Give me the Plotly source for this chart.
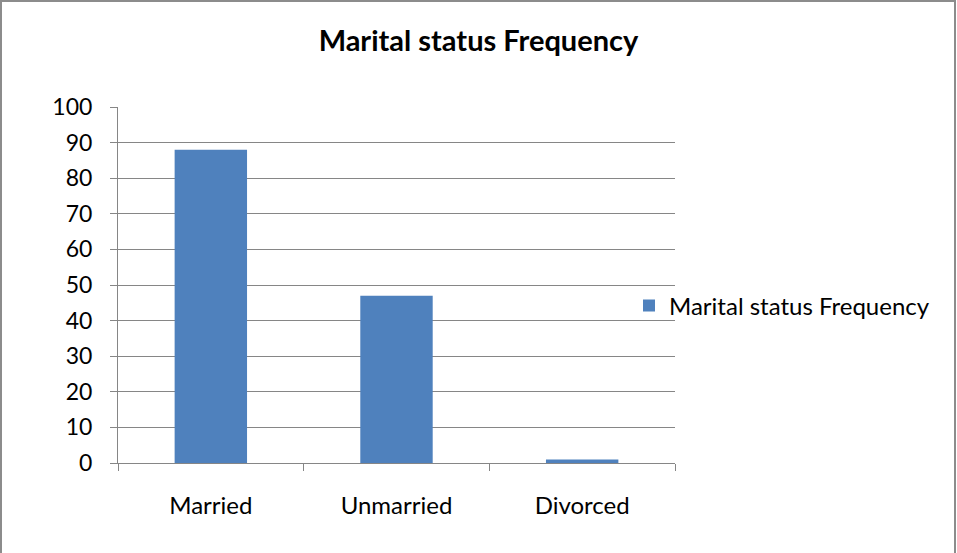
import plotly.graph_objs as go

categories = ['Married', 'Unmarried', 'Divorced']
frequency = [88, 47, 1]
y_ticks = [0, 10, 20, 30, 40, 50, 60, 70, 80, 90, 100]

W, H = 957, 553
ml, mr, mt, mb = 118, 282, 107, 90
pw, ph = W - ml - mr, H - mt - mb

bar = go.Bar(x=categories, y=frequency,
             name='Marital status Frequency',
             marker=dict(color='#4f81bd', line=dict(width=0)),
             width=0.39)

layout = go.Layout(
    width=W, height=H,
    margin=dict(l=ml, r=mr, t=mt, b=mb, autoexpand=False),
    paper_bgcolor='white', plot_bgcolor='white',
    font=dict(family='Lato, Carlito, sans-serif', color='black', size=23),
    title=dict(text='<b>Marital status Frequency</b>', x=0.5, xref='container',
               xanchor='center', y=1 - 41 / H, yref='container', yanchor='middle',
               font=dict(size=29)),
    showlegend=True,
    legend=dict(x=(629 - ml) / pw, y=(463 - 306) / ph, xanchor='left', yanchor='middle',
                font=dict(size=24), bgcolor='rgba(0,0,0,0)'),
    xaxis=dict(showline=True, linecolor='#868686', linewidth=1,
               ticks='outside', tickson='boundaries', ticklen=7, tickcolor='#868686',
               showgrid=False, ticklabelstandoff=21, tickfont=dict(size=24)),
    yaxis=dict(range=[0, 100], tickvals=y_ticks, showline=True, linecolor='#868686',
               ticks='outside', ticklen=7, tickcolor='#868686',
               showgrid=True, gridcolor='#868686', gridwidth=1,
               zeroline=False, ticklabelstandoff=13),
    shapes=[dict(type='rect', xref='paper', yref='paper',
                 x0=(1 - ml) / pw, x1=(W - 2 - ml) / pw,
                 y0=(mb - H - 5) / ph, y1=(H - 1 - mb) / ph,
                 line=dict(color='#8c8c8c', width=2), layer='below')],
)

fig = go.Figure(data=[bar], layout=layout)
fig.write_html('out.html', config={'displayModeBar': False},
               post_script="document.body.style.margin='0';")
